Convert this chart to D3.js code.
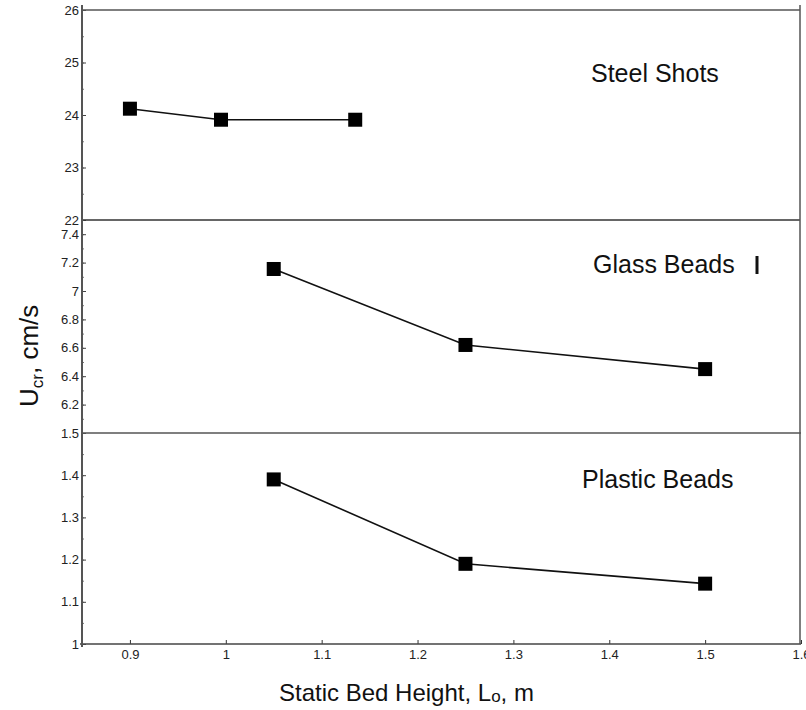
<!DOCTYPE html>
<html>
<head>
<meta charset="utf-8">
<script src="https://cdn.jsdelivr.net/npm/d3@7"></script>
<style>
  body { margin: 0; background: #fff; }
  svg { font-family: "Liberation Sans", Arial, sans-serif; }
</style>
</head>
<body>
<div id="chart"></div>
<script>
// data
var steelX = [0.9, 0.995, 1.135];
var steelY = [24.12, 23.91, 23.91];
var beadsX = [1.05, 1.25, 1.5];
var glassY = [7.155, 6.62, 6.45];
var plasticY = [1.39, 1.19, 1.143];

var xTicks = [0.9, 1, 1.1, 1.2, 1.3, 1.4, 1.5, 1.6];
var steelTicks = [22, 23, 24, 25, 26];
var glassTicks = [6.2, 6.4, 6.6, 6.8, 7, 7.2, 7.4];
var plasticTicks = [1, 1.1, 1.2, 1.3, 1.4, 1.5];

var width = 806, height = 710;
// note: can't call it "top", that's window.top
var plotLeft = 82, plotRight = 800, plotTop = 10, plotBottom = 644;

var svg = d3.select("#chart").append("svg")
    .attr("width", width)
    .attr("height", height);

var x = d3.scaleLinear().domain([0.85, 1.6]).range([plotLeft, 801]);

// three stacked panels sharing the x axis
var panels = [
  {name: "Steel Shots", xs: steelX, ys: steelY, dom: [22, 26], rng: [220, plotTop], ticks: steelTicks, minor: 0.5, lab: [591, 82]},
  {name: "Glass Beads", xs: beadsX, ys: glassY, dom: [6.0, 7.5], rng: [433, 220], ticks: glassTicks, minor: 0.1, lab: [593, 273]},
  {name: "Plastic Beads", xs: beadsX, ys: plasticY, dom: [1, 1.5], rng: [plotBottom, 433], ticks: plasticTicks, minor: 0.05, lab: [582, 488]}
];

panels.forEach(function(p) {
  var y = d3.scaleLinear().domain(p.dom).range(p.rng);

  // minor ticks
  var minors = d3.range(p.dom[0], p.dom[1] + 1e-9, p.minor);
  svg.append("g")
      .attr("transform", "translate(" + plotLeft + ",0)")
      .call(d3.axisLeft(y).tickValues(minors).tickSize(-2).tickFormat(""))
      .call(function(g) { g.select(".domain").remove(); })
      .selectAll("line").attr("stroke", "#777");

  var ax = svg.append("g")
      .attr("transform", "translate(" + plotLeft + ",0)")
      .call(d3.axisLeft(y).tickValues(p.ticks).tickSize(-4).tickPadding(3).tickFormat(d3.format("~g")))
      .call(function(g) { g.select(".domain").remove(); })
      .attr("font-size", 13)
      .attr("font-family", null);
  ax.selectAll("line").attr("stroke", "#444");
  ax.selectAll("text").attr("fill", "#222");

  var line = d3.line()
      .x(function(d, i) { return x(p.xs[i]); })
      .y(function(d) { return y(d); });

  svg.append("path")
      .datum(p.ys)
      .attr("d", line)
      .attr("fill", "none")
      .attr("stroke", "#111")
      .attr("stroke-width", 1.6);

  svg.selectAll(null)
      .data(p.ys)
      .enter().append("rect")
      .attr("x", function(d, i) { return x(p.xs[i]) - 7; })
      .attr("y", function(d) { return y(d) - 7; })
      .attr("width", 14)
      .attr("height", 14)
      .attr("fill", "#000");

  svg.append("text")
      .attr("x", p.lab[0])
      .attr("y", p.lab[1])
      .attr("font-size", "25px")
      .attr("fill", "#111")
      .text(p.name);
});

// stray bar next to the glass label
svg.append("line")
    .attr("x1", 757).attr("x2", 757)
    .attr("y1", 256).attr("y2", 274)
    .attr("stroke", "#111").attr("stroke-width", 3);

// x axis, ticks pointing up
var xa = svg.append("g")
    .attr("transform", "translate(0," + plotBottom + ")")
    .call(d3.axisBottom(x).tickValues(xTicks).tickSize(-4).tickPadding(6).tickFormat(d3.format("~g")))
    .call(function(g) { g.select(".domain").remove(); })
    .attr("font-size", 13)
    .attr("font-family", null);
xa.selectAll("line").attr("stroke", "#333");
xa.selectAll("text").attr("fill", "#222");

// frame and panel separators
svg.append("line").attr("x1", plotLeft).attr("x2", plotRight).attr("y1", plotTop).attr("y2", plotTop)
    .attr("stroke", "#555").attr("stroke-width", 1.5);
svg.append("line").attr("x1", plotLeft).attr("x2", plotRight).attr("y1", 220).attr("y2", 220)
    .attr("stroke", "#333").attr("stroke-width", 1.5);
svg.append("line").attr("x1", plotLeft).attr("x2", plotRight + 1).attr("y1", 433).attr("y2", 433)
    .attr("stroke", "#555").attr("stroke-width", 1.5);
svg.append("line").attr("x1", 80).attr("x2", plotRight + 1).attr("y1", plotBottom).attr("y2", plotBottom)
    .attr("stroke", "#444").attr("stroke-width", 1.5);
svg.append("line").attr("x1", plotLeft).attr("x2", plotLeft).attr("y1", 5).attr("y2", plotBottom + 3)
    .attr("stroke", "#555").attr("stroke-width", 2);
svg.append("line").attr("x1", plotRight).attr("x2", plotRight).attr("y1", 5).attr("y2", plotBottom)
    .attr("stroke", "#555").attr("stroke-width", 1.5);

// axis titles
var xt = svg.append("text")
    .attr("x", 279)
    .attr("y", 701)
    .attr("font-size", "24px")
    .attr("fill", "#111");
xt.append("tspan").text("Static Bed Height, L");
xt.append("tspan").attr("font-size", "17px").attr("dy", 1).text("o");
xt.append("tspan").attr("dy", -1).text(", m");

var yt = svg.append("text")
    .attr("transform", "translate(38,407) rotate(-90)")
    .attr("font-size", "26px")
    .attr("fill", "#111");
yt.append("tspan").text("U");
yt.append("tspan").attr("font-size", "17px").attr("dy", 5).text("cr");
yt.append("tspan").attr("dy", -5).text(", cm/s");
</script>
</body>
</html>
